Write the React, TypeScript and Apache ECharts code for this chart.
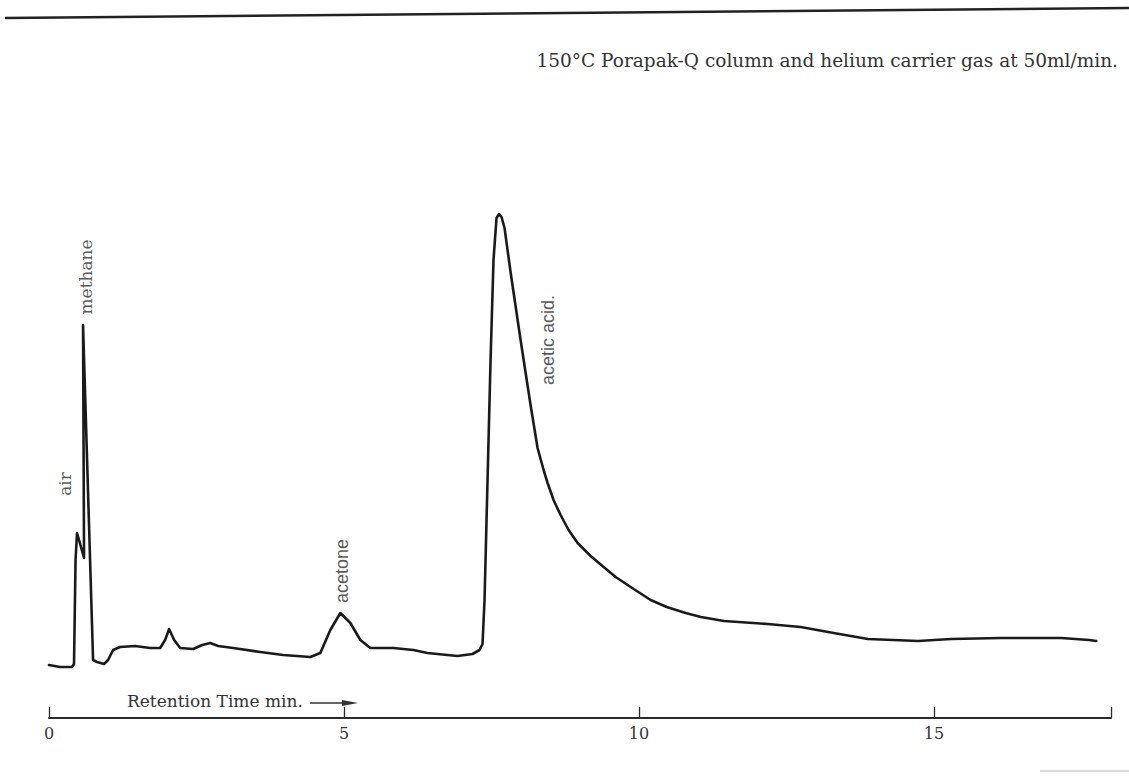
import React, { useEffect, useRef } from "react";
import * as echarts from "echarts";

// Retention time (min) and detector signal (arbitrary units)
const timeMin: number[] = [
  0, 0.187, 0.39, 0.424, 0.45, 0.475, 0.509, 0.594, 0.577, 0.747, 0.815, 0.933, 1.001,
  1.086, 1.205, 1.459, 1.714, 1.884, 1.968, 2.036, 2.121, 2.223, 2.444, 2.596, 2.732,
  2.868, 3.122, 3.58, 3.971, 4.429, 4.599, 4.768, 4.938, 5.108, 5.277, 5.447, 5.837,
  6.177, 6.414, 6.923, 7.178, 7.297, 7.348, 7.382, 7.416, 7.484, 7.534, 7.585, 7.628,
  7.67, 7.721, 7.823, 7.993, 8.162, 8.281, 8.383, 8.451, 8.552, 8.671, 8.807, 8.96,
  9.18, 9.401, 9.604, 9.91, 10.198, 10.47, 10.79, 11.05, 11.44, 12.18, 12.74, 13.3,
  13.88, 14.73, 15.29, 16.14, 17.16, 17.63, 17.75,
];
const signal: number[] = [
  53, 51, 51, 54, 158, 185, 178, 160, 393, 58, 56, 54, 58,
  68, 71, 72, 70, 70, 78, 89, 78, 70, 69, 73, 75,
  72, 70, 66, 63, 61, 65, 88, 105, 95, 78, 70, 70,
  68, 65, 62, 64, 68, 74, 118, 198, 358, 458, 500, 504,
  501, 490, 446, 378, 313, 270, 248, 235, 218, 203, 188, 175,
  162, 151, 141, 129, 118, 111, 105, 101, 97, 94, 91, 85,
  79, 77, 79, 80, 80, 78, 77,
];

// Peak annotations: name, retention time, label height
const peakNames: string[] = ["air", "methane", "acetone", "acetic acid."];
const peakTimes: number[] = [0.27, 0.628, 4.972, 8.45];
const peakLabelHeights: number[] = [234, 441, 147, 378];

const xTicks: number[] = [0, 5, 10, 15];
const titleText = "150°C Porapak-Q column and helium carrier gas at 50ml/min.";
const axisTitle = "Retention Time min.";

const SERIF = "'DejaVu Serif', 'Liberation Serif', serif";
const SANS = "'Liberation Sans', Arial, sans-serif";

export default function App() {
  const ref = useRef<HTMLDivElement>(null);

  useEffect(() => {
    if (!ref.current) return;
    const chart = echarts.init(ref.current, undefined, { renderer: "svg" });
    const traceData = timeMin.map((t, i) => [t, signal[i]]);
    const labelData = peakNames.map((n, i) => ({
      name: n,
      value: [peakTimes[i], peakLabelHeights[i]],
      label: i < 2 ? { fontFamily: SERIF, fontSize: 17 } : { fontFamily: SANS, fontSize: 18 },
    }));

    chart.setOption({
      animation: false,
      backgroundColor: "#ffffff",
      grid: { left: 49, right: 18, top: 100, bottom: 59 },
      xAxis: {
        type: "value",
        min: 0,
        max: 18,
        interval: 5,
        splitLine: { show: false },
        axisLine: { show: true, lineStyle: { color: "#2a2a2a", width: 2 } },
        axisTick: { show: true, inside: true, length: 11, lineStyle: { color: "#2a2a2a", width: 1.3 } },
        axisLabel: {
          margin: 7,
          color: "#333",
          fontFamily: SERIF,
          fontSize: 16,
          formatter: (v: number) => (xTicks.includes(v) ? String(v) : ""),
        },
      },
      yAxis: {
        type: "value",
        min: 0,
        max: 618,
        show: false,
      },
      series: [
        {
          type: "line",
          data: traceData,
          showSymbol: false,
          smooth: false,
          lineStyle: { color: "#1a1a1a", width: 2.6, join: "round", cap: "round" },
          z: 3,
        },
        {
          type: "scatter",
          data: labelData,
          symbolSize: 0,
          silent: true,
          label: {
            show: true,
            position: "inside",
            rotate: 90,
            formatter: (p: any) => p.name,
            color: "#2b2b2b",
            fontFamily: SERIF,
            fontSize: 17,
          },
          z: 4,
        },
      ],
      graphic: [
        {
          type: "line",
          shape: { x1: 5, y1: 18, x2: 1129, y2: 8 },
          style: { stroke: "#222", lineWidth: 2.5 },
        },
        {
          type: "text",
          right: 11,
          top: 51,
          style: { text: titleText, fill: "#333", font: `18.5px ${SERIF}` },
        },
        {
          type: "text",
          left: 127,
          top: 692,
          style: { text: axisTitle, fill: "#333", font: `17px ${SERIF}` },
        },
        {
          type: "line",
          shape: { x1: 310, y1: 703, x2: 348, y2: 703 },
          style: { stroke: "#333", lineWidth: 1.3 },
        },
        {
          type: "polygon",
          shape: { points: [[342, 700], [358, 703], [342, 706]] },
          style: { fill: "#333" },
        },
        {
          type: "line",
          shape: { x1: 1040, y1: 771, x2: 1129, y2: 771 },
          style: { stroke: "#ccc", lineWidth: 1.5 },
        },
      ],
    });
    return () => chart.dispose();
  }, []);

  return (
    <div
      ref={ref}
      style={{ position: "fixed", left: 0, top: 0, width: 1129, height: 777, background: "#fff" }}
    />
  );
}
